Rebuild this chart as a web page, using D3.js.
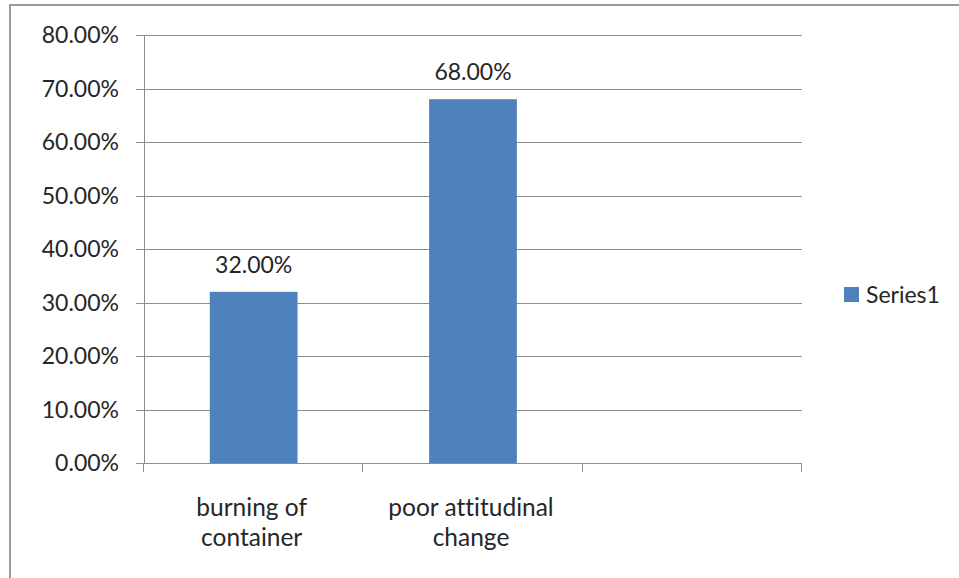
<!DOCTYPE html>
<html>
<head>
<meta charset="utf-8">
<script src="https://cdn.jsdelivr.net/npm/d3@7"></script>
<style>
  html, body { margin: 0; padding: 0; background: #fff; }
  svg { display: block; }
  text { font-family: Lato, "Open Sans", sans-serif; fill: #262626; font-variant-ligatures: none; }
</style>
</head>
<body>
<svg id="chart" width="959" height="578"></svg>
<script>
// Chart data
const categories = [["burning of", "container"], ["poor attitudinal", "change"], ["", ""]];
const seriesName = "Series1";
const seriesValues = [0.32, 0.68];
const yTicks = [0, 0.1, 0.2, 0.3, 0.4, 0.5, 0.6, 0.7, 0.8];

const svg = d3.select("#chart");
const W = 959, H = 578;
const plot = { left: 144, right: 802, top: 35, bottom: 463 };
const barColor = "#4F81BD";
const gridColor = "#8c8c8c";
const numSize = 23;
const catSize = 24.5;

// Outer frame (top and left edges visible)
svg.append("path")
  .attr("d", `M10,${H} L10,5 L${W},5`)
  .attr("fill", "none")
  .attr("stroke", "#9a9a9a")
  .attr("stroke-width", 2);

const x = d3.scaleBand()
  .domain(d3.range(categories.length))
  .range([plot.left, plot.right])
  .paddingInner(0.6)
  .paddingOuter(0.3);

const xOuter = d3.scaleBand()
  .domain(d3.range(categories.length))
  .range([plot.left, plot.right]);

const y = d3.scaleLinear().domain([0, 0.8]).range([plot.bottom, plot.top]);
const fmt = d => (d * 100).toFixed(2) + "%";

// Horizontal gridlines
svg.append("g").selectAll("line")
  .data(yTicks)
  .join("line")
  .attr("x1", plot.left - 8)
  .attr("x2", plot.right)
  .attr("y1", d => Math.round(y(d)) + 0.5)
  .attr("y2", d => Math.round(y(d)) + 0.5)
  .attr("stroke", gridColor)
  .attr("stroke-width", 1);

// Y tick labels
svg.append("g").selectAll("text")
  .data(yTicks)
  .join("text")
  .attr("x", 119)
  .attr("y", d => y(d))
  .attr("dy", "0.36em")
  .attr("text-anchor", "end")
  .attr("font-size", numSize)
  .text(fmt);

// Y axis line
svg.append("line")
  .attr("x1", plot.left + 0.5).attr("x2", plot.left + 0.5)
  .attr("y1", plot.top).attr("y2", plot.bottom)
  .attr("stroke", gridColor);

// Category tick marks on the baseline
const catTicks = d3.range(categories.length + 1).map(i =>
  i < categories.length ? xOuter(i) : plot.right);
svg.append("g").selectAll("line")
  .data(catTicks)
  .join("line")
  .attr("x1", d => Math.round(d) - 0.5)
  .attr("x2", d => Math.round(d) - 0.5)
  .attr("y1", plot.bottom)
  .attr("y2", plot.bottom + 9)
  .attr("stroke", gridColor);

// Bars
svg.append("g").selectAll("rect")
  .data(seriesValues)
  .join("rect")
  .attr("x", (d, i) => x(i))
  .attr("y", d => y(d))
  .attr("width", x.bandwidth())
  .attr("height", d => y(0) - y(d))
  .attr("fill", barColor);

// Value labels
svg.append("g").selectAll("text")
  .data(seriesValues)
  .join("text")
  .attr("x", (d, i) => x(i) + x.bandwidth() / 2)
  .attr("y", d => y(d) - 19)
  .attr("text-anchor", "middle")
  .attr("font-size", numSize)
  .text(fmt);

// Category labels (two lines)
const catG = svg.append("g").selectAll("text")
  .data(categories)
  .join("text")
  .attr("text-anchor", "middle")
  .attr("font-size", catSize);
catG.each(function(lines, i) {
  const cx = x(i) + x.bandwidth() / 2 - 2;
  d3.select(this).selectAll("tspan")
    .data(lines)
    .join("tspan")
    .attr("x", cx)
    .attr("y", (l, j) => 516 + j * 30)
    .text(l => l);
});

// Legend
const legend = svg.append("g").attr("transform", "translate(844,287)");
legend.append("rect").attr("width", 15).attr("height", 15).attr("fill", barColor);
legend.append("text")
  .attr("x", 22).attr("y", 7.5).attr("dy", "0.36em")
  .attr("font-size", numSize)
  .text(seriesName);
</script>
</body>
</html>
